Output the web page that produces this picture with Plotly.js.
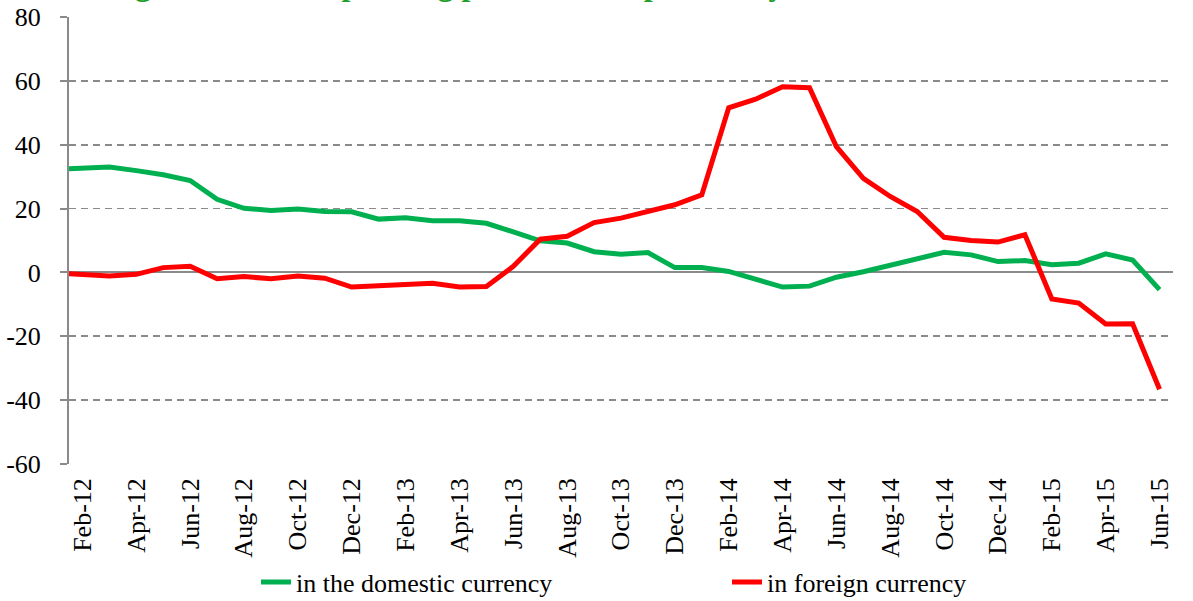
<!DOCTYPE html>
<html>
<head>
<meta charset="utf-8">
<script src="https://cdn.plot.ly/plotly-3.0.1.min.js"></script>
<style>
html,body{margin:0;padding:0;background:#fff;overflow:hidden;}
#chart{width:1193px;height:601px;}
</style>
</head>
<body>
<div id="chart"></div>
<script>
// Months (Jan-12 is only partly visible, clipped at the left axis)
const months = ["Jan-12","Feb-12","Mar-12","Apr-12","May-12","Jun-12","Jul-12","Aug-12","Sep-12","Oct-12","Nov-12","Dec-12",
  "Jan-13","Feb-13","Mar-13","Apr-13","May-13","Jun-13","Jul-13","Aug-13","Sep-13","Oct-13","Nov-13","Dec-13",
  "Jan-14","Feb-14","Mar-14","Apr-14","May-14","Jun-14","Jul-14","Aug-14","Sep-14","Oct-14","Nov-14","Dec-14",
  "Jan-15","Feb-15","Mar-15","Apr-15","May-15","Jun-15"];

const domestic = [32.3,32.5,33.0,31.9,30.6,28.8,22.9,20.1,19.4,19.9,19.1,19.0,
  16.7,17.1,16.2,16.2,15.4,12.7,9.9,9.2,6.5,5.7,6.2,1.5,
  1.5,0.3,-2.0,-4.6,-4.3,-1.5,0.2,2.3,4.4,6.3,5.5,3.4,
  3.7,2.4,2.9,5.8,3.9,-5.4];

const foreign = [-0.2,-0.6,-1.1,-0.6,1.5,1.9,-2.0,-1.3,-2.0,-1.1,-1.8,-4.6,
  -4.1,-3.6,-3.4,-4.6,-4.4,1.9,10.4,11.3,15.6,17.0,19.1,21.2,
  24.3,51.6,54.3,58.2,57.9,39.4,29.5,23.8,19.1,11.0,10.0,9.5,
  11.8,-8.3,-9.6,-16.2,-16.1,-36.6];

const seriesNames = ["in the domestic currency","in foreign currency"];
const titleText = "Borrowings to the corresponding period of the previous year, %";

// y tick values and labels (plain hyphen minus as in the reference)
const yTickVals = [-60,-40,-20,0,20,40,60,80];
const yTickText = ["-60","-40","-20","0","20","40","60","80"];

// tick labels every second month starting Feb-12
const tickLabels = months.filter((m,i)=> i % 2 === 1);
// tick marks on the zero line sit between categories
const tickMarks = [];
for (let i = 2; i < months.length - 1; i += 2) tickMarks.push(i + 0.5);

const FONT = "Liberation Serif, Times New Roman, serif";
const GRAY = "#8a8a8a";

const traces = [
  {x: months, y: domestic, name: seriesNames[0], type: "scatter", mode: "lines",
   line: {color: "#00B050", width: 5}},
  {x: months, y: foreign, name: seriesNames[1], type: "scatter", mode: "lines",
   line: {color: "#FF0000", width: 5}}
];

const layout = {
  width: 1193, height: 601,
  margin: {l: 69, r: 20, t: 17, b: 137},
  paper_bgcolor: "#fff", plot_bgcolor: "#fff",
  font: {family: FONT, size: 26, color: "#000"},
  showlegend: true,
  legend: {orientation: "h", xref: "container", yref: "container",
           x: 256/1193, xanchor: "left", y: 1 - 582/601, yanchor: "middle",
           font: {family: FONT, size: 26, color: "#000"}, entrywidth: 426, entrywidthmode: "pixels",
           bgcolor: "rgba(0,0,0,0)"},
  xaxis: {type: "category", range: [0.5, 41.5], tickmode: "array", tickvals: tickLabels, ticktext: tickLabels,
          tickangle: -90, ticks: "", showgrid: false, zeroline: false, showline: false,
          tickfont: {family: FONT, size: 26, color: "#000"}, automargin: false, ticklabelstandoff: 8},
  xaxis2: {overlaying: "x", anchor: "free", position: 60.05/140.1, range: [0.5, 41.5], type: "linear",
           tickmode: "array", tickvals: tickMarks, ticks: "outside", ticklen: 7, tickwidth: 2, tickcolor: GRAY,
           showticklabels: false, showgrid: false, zeroline: false, showline: false, fixedrange: true},
  yaxis: {range: [-60.05, 80.05], tickmode: "array", tickvals: yTickVals, ticktext: yTickText,
          showline: true, linecolor: GRAY, linewidth: 2,
          ticks: "outside", ticklen: 7, tickwidth: 2, tickcolor: GRAY,
          showgrid: true, gridcolor: GRAY, gridwidth: 1.5, griddash: "7px,5px",
          zeroline: true, zerolinecolor: GRAY, zerolinewidth: 2,
          tickfont: {family: FONT, size: 26, color: "#000"}, automargin: false, ticklabelstandoff: 14},
  annotations: [{text: "<b>" + titleText + "</b>", xref: "paper", yref: "paper", x: -0.0607, y: 1.028,
                 xanchor: "left", yanchor: "bottom", showarrow: false,
                 font: {family: FONT, size: 32, color: "#1E9E2A"}}]
};

Plotly.newPlot("chart", traces, layout, {displayModeBar: false, staticPlot: true});
</script>
</body>
</html>
